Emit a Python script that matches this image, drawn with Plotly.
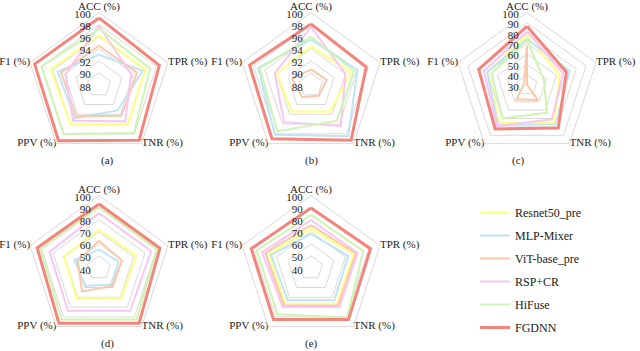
import plotly.graph_objects as go

metrics = ["ACC (%)", "TPR (%)", "TNR (%)", "PPV (%)", "F1 (%)"]
label_pos = ["top center", "middle right", "middle right", "middle left", "middle left"]
models = ["Resnet50_pre", "MLP-Mixer", "ViT-base_pre", "RSP+CR", "HiFuse", "FGDNN"]
colors = ["#FFFF80", "#BFE4F7", "#F9C9AA", "#F8C6F4", "#CDF4B0", "#F4857D"]
widths = [2, 2, 2, 2, 2, 3]

# one row per model, columns follow metrics
scores_a = [
    [96.2, 96.1, 96.1, 96.0, 96.4],
    [93.0, 95.6, 93.2, 94.8, 95.2],
    [94.5, 94.6, 94.3, 94.4, 94.6],
    [97.8, 93.6, 95.4, 95.3, 93.8],
    [97.3, 96.9, 97.8, 98.0, 98.0],
    [99.1, 98.5, 99.3, 99.4, 99.2],
]
scores_b = [
    [94.4, 94.9, 93.4, 93.4, 94.0],
    [95.5, 96.1, 98.5, 98.2, 97.2],
    [90.6, 90.7, 90.2, 90.5, 91.3],
    [97.6, 94.0, 96.4, 95.6, 94.3],
    [96.0, 95.5, 95.3, 97.5, 96.9],
    [98.1, 97.6, 99.3, 99.0, 98.7],
]
scores_c = [
    [77.7, 63.0, 75.0, 75.4, 70.0],
    [74.3, 73.3, 77.0, 77.6, 70.5],
    [68.0, 30.0, 48.0, 47.0, 33.0],
    [81.7, 66.5, 71.0, 79.0, 73.8],
    [73.3, 47.0, 63.0, 70.0, 66.0],
    [86.7, 70.0, 81.4, 82.4, 79.0],
]
scores_d = [
    [71.7, 72.4, 71.1, 71.0, 70.7],
    [55.4, 57.0, 57.0, 58.5, 61.5],
    [62.6, 60.0, 58.5, 63.9, 58.5],
    [85.4, 85.4, 83.7, 83.7, 83.0],
    [90.3, 90.3, 92.8, 92.8, 90.8],
    [93.0, 93.0, 96.4, 96.4, 93.8],
]
scores_e = [
    [72.6, 77.3, 76.6, 76.6, 76.3],
    [68.3, 72.4, 72.9, 72.9, 74.8],
    [75.4, 79.0, 78.3, 78.0, 79.5],
    [79.7, 80.5, 80.0, 80.0, 82.6],
    [84.0, 85.4, 91.0, 87.4, 87.4],
    [89.7, 91.8, 92.8, 92.8, 92.0],
]

ticks_ab = [88, 90, 92, 94, 96, 98, 100]
ticks_c = [30, 40, 50, 60, 70, 80, 90, 100]
ticks_de = [40, 50, 60, 70, 80, 90, 100]

# (label, data, radial ticks, centre of the radar in px, y of the caption)
panels = [
    ("(a)", scores_a, ticks_ab, (99, 85), 160),
    ("(b)", scores_b, ticks_ab, (311, 85), 160),
    ("(c)", scores_c, ticks_c, (527, 85), 160),
    ("(d)", scores_d, ticks_de, (99, 268), 343),
    ("(e)", scores_e, ticks_de, (311, 268), 343),
]

W, H, S = 640, 351, 72.5
FONT = "Liberation Serif, Times New Roman, serif"
GRID = "#D9D9D9"
INK = "#222222"

fig = go.Figure()
layout = {}
annotations = []

for p, (tag, scores, ticks, (cx, cy), cap_y) in enumerate(panels):
    key = "polar" if p == 0 else f"polar{p + 1}"
    for m, name in enumerate(models):
        vals = scores[m]
        fig.add_trace(go.Scatterpolar(
            r=vals + vals[:1],
            theta=metrics + metrics[:1],
            mode="lines",
            line=dict(color=colors[m], width=widths[m]),
            name=name,
            legendgroup=name,
            showlegend=(p == 0),
            subplot=key,
        ))
    # axis names sit just outside the outer vertices
    fig.add_trace(go.Scatterpolar(
        r=[ticks[-1]] * len(metrics),
        theta=metrics,
        mode="text",
        text=metrics,
        textposition=label_pos,
        textfont=dict(family=FONT, size=11, color=INK),
        cliponaxis=False,
        showlegend=False,
        hoverinfo="skip",
        subplot=key,
    ))
    layout[key] = dict(
        domain=dict(x=[(cx - S) / W, (cx + S) / W],
                    y=[(H - cy - S) / H, (H - cy + S) / H]),
        bgcolor="white",
        gridshape="linear",
        angularaxis=dict(direction="clockwise", rotation=90, showgrid=False,
                         showline=True, linecolor=GRID, linewidth=1, ticks="",
                         showticklabels=False,
                         categoryorder="array", categoryarray=metrics),
        radialaxis=dict(range=[ticks[0], ticks[-1]], tickvals=ticks, angle=90,
                        side="counterclockwise", showline=False, ticks="",
                        gridcolor=GRID, gridwidth=1,
                        tickfont=dict(family=FONT, size=11, color=INK)),
    )
    annotations.append(dict(text=tag, x=cx / W, y=(H - cap_y) / H,
                            xref="paper", yref="paper", yanchor="middle",
                            showarrow=False,
                            font=dict(family=FONT, size=11, color=INK)))

fig.update_layout(
    **layout,
    annotations=annotations,
    width=W, height=H,
    margin=dict(l=0, r=0, t=0, b=0),
    paper_bgcolor="white",
    font=dict(family=FONT, size=12, color=INK),
    legend=dict(x=475 / W, y=(H - 198) / H, xanchor="left", yanchor="top",
                tracegroupgap=4, font=dict(family=FONT, size=12, color=INK),
                bgcolor="rgba(0,0,0,0)"),
)

# the page's default 8px body margin would push the figure off its 640x351 window
fig.write_html("out.html", config={"displayModeBar": False},
               post_script="document.body.style.margin='0';")
